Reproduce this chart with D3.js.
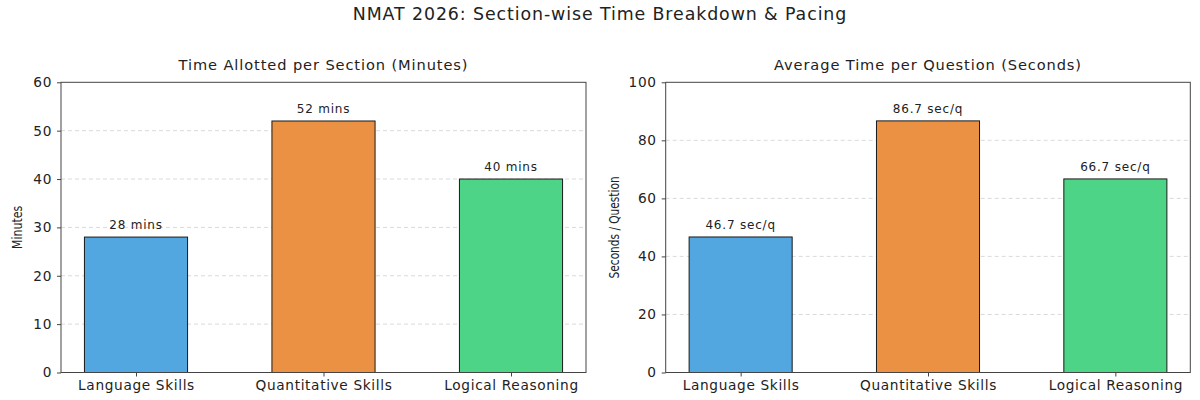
<!DOCTYPE html>
<html>
<head>
<meta charset="utf-8">
<script src="https://cdn.jsdelivr.net/npm/d3@7"></script>
<style>
  body { margin: 0; background: #fff; }
  svg text { font-family: "DejaVu Sans", "Open Sans", sans-serif; fill: #222; }
  .ylab { font-family: "Liberation Sans Narrow", "DejaVu Sans Condensed", sans-serif !important; }
</style>
</head>
<body>
<svg width="1200" height="400"></svg>
<script>
var sections = ["Language Skills", "Quantitative Skills", "Logical Reasoning"];
var minutes = [28, 52, 40];
var secPerQ = [46.7, 86.7, 66.7];
var minuteLabels = ["28 mins", "52 mins", "40 mins"];
var secLabels = ["46.7 sec/q", "86.7 sec/q", "66.7 sec/q"];
var minuteTicks = [0, 10, 20, 30, 40, 50, 60];
var secTicks = [0, 20, 40, 60, 80, 100];
var colors = ["#52a7e0", "#ea9143", "#4dd486"];

var svg = d3.select("svg");

svg.append("text")
  .attr("x", 600).attr("y", 20)
  .attr("text-anchor", "middle")
  .style("font-size", "17.4px")
  .style("letter-spacing", "0.9px")
  .text("NMAT 2026: Section-wise Time Breakdown & Pacing");

function panel(left, right, title, ylabel, ylabOffset, ylabLen, values, labels, ticks) {
  var top = 82.3, bottom = 372.5;
  var g = svg.append("g");

  var x = d3.scaleLinear().domain([-0.4, 2.4]).range([left, right]);
  var y = d3.scaleLinear().domain([0, d3.max(ticks)]).range([bottom, top]);
  var bw = 0.55;

  // grid
  g.selectAll(".grid").data(ticks.slice(1, -1)).enter().append("line")
    .attr("x1", left).attr("x2", right)
    .attr("y1", function(d) { return y(d); })
    .attr("y2", function(d) { return y(d); })
    .attr("stroke", "#d0d0d0").attr("stroke-width", 0.8)
    .attr("stroke-dasharray", "4,3");

  // bars
  g.selectAll(".bar").data(values).enter().append("rect")
    .attr("x", function(d, i) { return x(i - bw / 2); })
    .attr("width", x(bw) - x(0))
    .attr("y", function(d) { return y(d); })
    .attr("height", function(d) { return bottom - y(d); })
    .attr("fill", function(d, i) { return colors[i]; })
    .attr("stroke", "#1a1a1a").attr("stroke-width", 1);

  g.selectAll(".blab").data(values).enter().append("text")
    .attr("x", function(d, i) { return x(i); })
    .attr("y", function(d) { return y(d) - 8; })
    .attr("text-anchor", "middle")
    .style("font-size", "12px")
    .style("letter-spacing", "0.8px")
    .text(function(d, i) { return labels[i]; });

  // axes
  var ya = d3.axisLeft(y).tickValues(ticks).tickSize(4).tickPadding(5).tickFormat(d3.format("d"));
  var yg = g.append("g").attr("transform", "translate(" + left + ",0)").call(ya);
  var xa = d3.axisBottom(x).tickValues([0, 1, 2]).tickSize(4).tickPadding(4)
    .tickFormat(function(d) { return sections[d]; });
  var xg = g.append("g").attr("transform", "translate(0," + bottom + ")").call(xa);
  [yg, xg].forEach(function(a) {
    a.select(".domain").remove();
    a.selectAll("line").attr("stroke", "#444");
    a.selectAll("text").style("font-size", "13.7px").style("letter-spacing", "0.65px").attr("fill", "#222");
  });

  g.append("rect")
    .attr("x", left).attr("y", top)
    .attr("width", right - left).attr("height", bottom - top)
    .attr("fill", "none").attr("stroke", "#444").attr("stroke-width", 1);

  g.append("text")
    .attr("x", (left + right) / 2).attr("y", 70)
    .attr("text-anchor", "middle")
    .style("font-size", "14.6px")
    .style("letter-spacing", "0.9px")
    .text(title);

  g.append("text")
    .attr("class", "ylab")
    .attr("transform", "translate(" + (left - ylabOffset) + "," + ((top + bottom) / 2) + ") rotate(-90)")
    .attr("text-anchor", "middle")
    .attr("textLength", ylabLen)
    .attr("lengthAdjust", "spacingAndGlyphs")
    .style("font-size", "14px")
    .text(ylabel);
}

panel(61, 586, "Time Allotted per Section (Minutes)", "Minutes", 39, 43, minutes, minuteLabels, minuteTicks);
panel(665.7, 1190.3, "Average Time per Question (Seconds)", "Seconds / Question", 47, 102, secPerQ, secLabels, secTicks);
</script>
</body>
</html>
